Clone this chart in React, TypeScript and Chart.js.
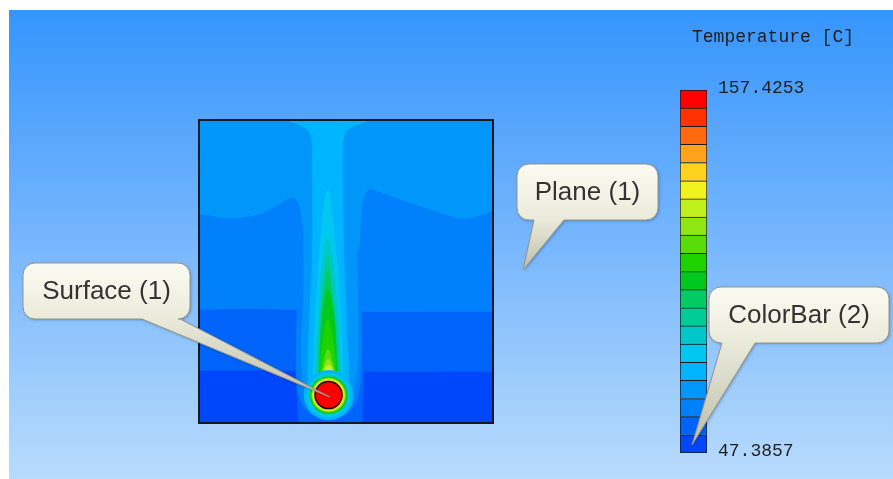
import React, { useEffect, useRef } from "react";
import { Chart, registerables } from "chart.js";

Chart.register(...registerables);

// ---------------- colour bar data ----------------
const colorbarTitle = "Temperature [C]";
const temperatureMin = 47.3857;
const temperatureMax = 157.4253;
const colorbarTickValues = [157.4253, 47.3857];
const colorbarTickLabels = ["157.4253", "47.3857"];
const levelBounds = [
  47.3857, 52.8877, 58.3897, 63.8916, 69.3936, 74.8956, 80.3976, 85.8996, 91.4015, 96.9035,
  102.4055, 107.9075, 113.4095, 118.9114, 124.4134, 129.9154, 135.4174, 140.9194, 146.4213,
  151.9233, 157.4253,
];
const levelColors = [
  "#0046fa", "#0064fa", "#0080fa", "#0096fa", "#00b4ff",
  "#00c8f0", "#00c8c8", "#00cc96", "#00cc64", "#00c81e",
  "#1ed200", "#58dc0a", "#8ee614", "#c0f01e", "#f2f21e",
  "#ffd21e", "#ffa31a", "#ff6a10", "#ff3300", "#ff0000",
];

// ---------------- plane contour field (cm) ----------------
const planeWidth = 29.5;
const planeHeight = 30.4;

const baseX = [-1, -1, 30.5, 30.5];
const baseY = [-1, 31.4, 31.4, -1];

const middleBandX = [-1, -1, 0, 3.1, 6.1, 8.1, 9.1, 9.7, 10.1, 10.4, 10.7, 13.0, 15.9, 16.3, 16.6, 17.1, 17.9, 20.1, 23.1, 26.1, 27.6, 29.5, 30.5, 30.5];
const middleBandY = [-1, 20.9, 20.9, 20.5, 20.9, 21.9, 22.5, 22.4, 21.4, 19.4, 17.0, 14.0, 17.0, 20.4, 22.6, 23.4, 23.2, 22.4, 21.4, 20.5, 20.6, 21.2, 21.2, -1];

const lowerBandX = [-1, -1, 0, 5, 9.5, 16.5, 23, 29.5, 30.5, 30.5];
const lowerBandY = [-1, 11.3, 11.3, 11.4, 11.3, 11.1, 11.1, 11.1, 11.1, -1];

const bottomBandX = [-1, -1, 0, 10, 16, 29.5, 30.5, 30.5];
const bottomBandY = [-1, 5.2, 5.2, 5.2, 5.1, 5.1, 5.1, -1];

const wake1X = [9.8, 9.9, 10.5, 15.8, 16.4, 16.5];
const wake1Y = [5.5, 2.0, -1, -1, 2.0, 5.5];

const wake2X = [9.9, 9.8, 10.0, 11.1, 13.0, 14.9, 16.0, 16.3, 16.3];
const wake2Y = [13.4, 7.4, 2.9, 1.0, 0.6, 1.0, 2.9, 7.4, 13.4];

const wake3X = [10.5, 10.5, 10.3, 10.5, 11.5, 13.0, 14.5, 15.6, 15.9, 15.9, 15.8];
const wake3Y = [18.4, 12.4, 7.4, 3.9, 1.9, 1.2, 1.9, 3.9, 7.4, 12.4, 18.4];

const columnX = [8.1, 9.1, 10.1, 10.9, 11.3, 11.4, 11.4, 11.2, 11.0, 11.0, 11.6, 13.0, 14.4, 15.0, 14.9, 14.7, 14.5, 14.4, 14.5, 14.9, 15.8, 16.8, 18.1];
const columnY = [30.8, 30.3, 29.9, 29.4, 28.7, 26.4, 17.4, 12.4, 7.4, 4.4, 2.6, 1.9, 2.6, 4.4, 7.4, 12.4, 17.4, 26.4, 28.7, 29.4, 29.9, 30.3, 30.8];

const plume5X = [11.4, 11.5, 11.6, 11.8, 12.0, 12.2, 12.5, 12.9, 13.3, 13.6, 13.9, 14.1, 14.3, 14.4, 14.5];
const plume5Y = [3.4, 5.4, 8.4, 12.4, 15.4, 18.4, 21.2, 23.4, 21.2, 18.4, 15.4, 12.4, 8.4, 5.4, 3.4];

const plume6X = [11.6, 11.7, 11.9, 12.1, 12.3, 12.6, 12.9, 13.2, 13.5, 13.8, 14.0, 14.2, 14.3];
const plume6Y = [3.4, 5.4, 9.4, 12.4, 15.4, 17.4, 18.6, 17.4, 15.4, 12.4, 9.4, 5.4, 3.4];

const plume7X = [11.8, 11.9, 12.1, 12.3, 12.6, 12.9, 13.2, 13.5, 13.8, 14.0, 14.1];
const plume7Y = [3.4, 5.4, 9.4, 12.4, 15.2, 16.9, 15.2, 12.4, 9.4, 5.4, 3.4];

const plume8X = [11.9, 12.0, 12.2, 12.4, 12.6, 12.9, 13.2, 13.4, 13.7, 13.9, 14.0];
const plume8Y = [3.4, 5.4, 8.9, 11.9, 13.9, 15.4, 13.9, 11.9, 8.9, 5.4, 3.4];

const plume9X = [12.0, 12.1, 12.2, 12.4, 12.9, 13.5, 13.7, 13.8, 13.9];
const plume9Y = [3.4, 5.2, 7.9, 10.9, 13.4, 10.9, 7.9, 5.2, 3.4];

const plume10X = [12.1, 12.2, 12.4, 12.9, 13.5, 13.7, 13.8];
const plume10Y = [3.4, 5.2, 7.9, 10.4, 7.9, 5.2, 3.4];

const plume11X = [12.2, 12.3, 12.5, 12.95, 13.4, 13.7, 13.8];
const plume11Y = [3.4, 4.4, 5.9, 7.4, 5.9, 4.4, 3.4];

const plume12X = [12.1, 12.4, 12.95, 13.6, 13.9];
const plume12Y = [3.4, 4.9, 6.4, 4.9, 3.4];

const plume13X = [12.0, 12.2, 13.0, 13.8, 14.0];
const plume13Y = [3.4, 4.4, 5.8, 4.4, 3.4];

const plume14X = [11.9, 12.1, 13.0, 13.9, 14.1];
const plume14Y = [3.3, 4.1, 5.4, 4.1, 3.3];

const plume15X = [11.8, 12.2, 13.0, 13.8, 14.2];
const plume15Y = [3.2, 3.9, 5.1, 3.9, 3.2];

const plume16X = [11.9, 12.3, 13.0, 13.7, 14.1];
const plume16Y = [3.2, 3.8, 4.7, 3.8, 3.2];

const cylinderX = [13.0];
const cylinderY = [2.8];
const cylinderLevel = 19;
const haloLevels = [4, 5, 6, 7, 9, 11, 13, 15];

const calloutTexts = ["Plane (1)", "Surface (1)", "ColorBar (2)"];

// ---------------- layout / styles ----------------
const W = 893;
const H = 479;
const haloRadii = [25, 22, 20.5, 19.5, 18.5, 17.5, 16.5, 15.5];
const calloutLayout = [
  { box: [517, 164, 141, 56], tail: [534, 564, 523, 270] },
  { box: [23, 263, 167, 56], tail: [142, 180, 330, 397] },
  { box: [709, 287, 180, 56], tail: [722, 755, 692, 445] },
];

const fieldRegions = [
  { level: 3, xs: baseX, ys: baseY, tension: 0 },
  { level: 2, xs: middleBandX, ys: middleBandY, tension: 0.35 },
  { level: 1, xs: lowerBandX, ys: lowerBandY, tension: 0.35 },
  { level: 0, xs: bottomBandX, ys: bottomBandY, tension: 0.35 },
  { level: 1, xs: wake1X, ys: wake1Y, tension: 0.35 },
  { level: 2, xs: wake2X, ys: wake2Y, tension: 0.35 },
  { level: 3, xs: wake3X, ys: wake3Y, tension: 0.35 },
  { level: 4, xs: columnX, ys: columnY, tension: 0.35 },
  { level: 5, xs: plume5X, ys: plume5Y, tension: 0.35 },
  { level: 6, xs: plume6X, ys: plume6Y, tension: 0.35 },
  { level: 7, xs: plume7X, ys: plume7Y, tension: 0.35 },
  { level: 8, xs: plume8X, ys: plume8Y, tension: 0.35 },
  { level: 9, xs: plume9X, ys: plume9Y, tension: 0.35 },
  { level: 10, xs: plume10X, ys: plume10Y, tension: 0.35 },
  { level: 11, xs: plume11X, ys: plume11Y, tension: 0.35 },
  { level: 12, xs: plume12X, ys: plume12Y, tension: 0.35 },
  { level: 13, xs: plume13X, ys: plume13Y, tension: 0.35 },
  { level: 14, xs: plume14X, ys: plume14Y, tension: 0.35 },
  { level: 15, xs: plume15X, ys: plume15Y, tension: 0.35 },
  { level: 16, xs: plume16X, ys: plume16Y, tension: 0.35 },
];

function drawCallout(ctx: CanvasRenderingContext2D, text: string, L: any) {
  const [x, y, w, h] = L.box;
  const [b1, b2, tx, ty] = L.tail;
  const r = 12;
  ctx.save();
  ctx.beginPath();
  ctx.moveTo(x + r, y);
  ctx.lineTo(x + w - r, y);
  ctx.arcTo(x + w, y, x + w, y + r, r);
  ctx.lineTo(x + w, y + h - r);
  ctx.arcTo(x + w, y + h, x + w - r, y + h, r);
  ctx.lineTo(b2, y + h);
  ctx.lineTo(tx, ty);
  ctx.lineTo(b1, y + h);
  ctx.lineTo(x + r, y + h);
  ctx.arcTo(x, y + h, x, y + h - r, r);
  ctx.lineTo(x, y + r);
  ctx.arcTo(x, y, x + r, y, r);
  ctx.closePath();
  const bottom = Math.max(ty, y + h);
  const g = ctx.createLinearGradient(0, y, 0, bottom);
  const ratio = h / (bottom - y);
  g.addColorStop(0, "#fbfbf2");
  g.addColorStop(Math.min(1, ratio * 0.98), "#ebebdb");
  g.addColorStop(1, "#bdbdac");
  ctx.shadowColor = "rgba(0,0,0,0.28)";
  ctx.shadowBlur = 3;
  ctx.shadowOffsetX = 1;
  ctx.shadowOffsetY = 1;
  ctx.fillStyle = g;
  ctx.fill();
  ctx.shadowColor = "transparent";
  ctx.lineWidth = 1;
  ctx.strokeStyle = "#96968a";
  ctx.stroke();
  ctx.fillStyle = "#333333";
  ctx.font = '26px "Liberation Sans", Arial, sans-serif';
  ctx.textAlign = "center";
  ctx.textBaseline = "middle";
  ctx.fillText(text, x + w / 2, y + h / 2 + 1);
  ctx.restore();
}

const pageBackgroundPlugin = {
  id: "pageBackground",
  beforeDraw(chart: any) {
    const ctx = chart.ctx as CanvasRenderingContext2D;
    ctx.save();
    ctx.fillStyle = "#ffffff";
    ctx.fillRect(0, 0, W, H);
    const g = ctx.createLinearGradient(0, 10, 0, H);
    g.addColorStop(0, "#3595fd");
    g.addColorStop(0.5, "#78b7fd");
    g.addColorStop(1, "#b8dbfc");
    ctx.fillStyle = g;
    ctx.fillRect(9, 10, W - 9, H - 10);
    ctx.restore();
  },
};

const planeBorderPlugin = {
  id: "planeBorder",
  afterDatasetsDraw(chart: any) {
    const ctx = chart.ctx as CanvasRenderingContext2D;
    const a = chart.chartArea;
    ctx.save();
    ctx.strokeStyle = "#141820";
    ctx.lineWidth = 2;
    ctx.strokeRect(a.left, a.top, a.right - a.left, a.bottom - a.top);
    ctx.restore();
  },
};

const colorbarTextPlugin = {
  id: "colorbarText",
  afterDatasetsDraw(chart: any) {
    const ctx = chart.ctx as CanvasRenderingContext2D;
    const a = chart.chartArea;
    const yScale = chart.scales.y;
    ctx.save();
    ctx.fillStyle = "#1e1e1e";
    ctx.font = '18px "Liberation Mono", "DejaVu Sans Mono", monospace';
    ctx.textAlign = "left";
    ctx.textBaseline = "middle";
    ctx.fillText(colorbarTitle, a.left + 12, a.top - 53);
    colorbarTickValues.forEach((v, i) => {
      ctx.fillText(colorbarTickLabels[i], a.right + 11, yScale.getPixelForValue(v) - 2);
    });
    ctx.restore();
  },
  afterDraw(chart: any) {
    const ctx = chart.ctx as CanvasRenderingContext2D;
    calloutTexts.forEach((t, i) => drawCallout(ctx, t, calloutLayout[i]));
  },
};

export default function App() {
  const fieldRef = useRef<HTMLCanvasElement>(null);
  const barRef = useRef<HTMLCanvasElement>(null);

  useEffect(() => {
    const regionSets = fieldRegions.map((r) => ({
      data: r.xs.map((x, i) => ({ x, y: r.ys[i] })),
      showLine: true,
      fill: "shape",
      tension: r.tension,
      backgroundColor: levelColors[r.level],
      borderColor: levelColors[r.level],
      borderWidth: 1,
      pointRadius: 0,
      pointHitRadius: 0,
      clip: 0,
    }));
    const haloSets = haloLevels.map((lv, i) => ({
      data: cylinderX.map((x, j) => ({ x, y: cylinderY[j] })),
      showLine: false,
      pointRadius: haloRadii[i],
      pointBackgroundColor: levelColors[lv],
      pointBorderWidth: 0,
      clip: 0,
    }));
    const cylinderSet = {
      data: cylinderX.map((x, j) => ({ x, y: cylinderY[j] })),
      showLine: false,
      pointRadius: 13.5,
      pointBackgroundColor: levelColors[cylinderLevel],
      pointBorderColor: "#101010",
      pointBorderWidth: 1.5,
      clip: 0,
    };
    const ordered = [...regionSets, ...haloSets, cylinderSet].reverse();

    const fieldChart = new Chart(fieldRef.current!, {
      type: "scatter",
      data: { datasets: ordered as any },
      options: {
        animation: false,
        responsive: false,
        events: [],
        layout: { padding: { left: 199, top: 120, right: 400, bottom: 56 } },
        scales: {
          x: { type: "linear", min: 0, max: planeWidth, display: false },
          y: { type: "linear", min: 0, max: planeHeight, display: false },
        },
        plugins: { legend: { display: false }, tooltip: { enabled: false } },
      },
      plugins: [pageBackgroundPlugin, planeBorderPlugin],
    } as any);

    const barChart = new Chart(barRef.current!, {
      type: "bar",
      data: {
        labels: ["T"],
        datasets: levelColors.map((c, i) => ({
          data: [[levelBounds[i], levelBounds[i + 1]]],
          backgroundColor: c,
          borderColor: "#1a1a1a",
          borderWidth: { top: 1, left: 1, right: 1, bottom: i === 0 ? 1 : 0 },
          borderSkipped: false,
          grouped: false,
          barPercentage: 1,
          categoryPercentage: 1,
        })),
      },
      options: {
        animation: false,
        responsive: false,
        events: [],
        layout: { padding: { left: 680, top: 90, right: 186, bottom: 26 } },
        scales: {
          x: { display: false },
          y: { display: false, min: temperatureMin, max: temperatureMax },
        },
        plugins: { legend: { display: false }, tooltip: { enabled: false } },
      },
      plugins: [colorbarTextPlugin],
    } as any);

    return () => {
      fieldChart.destroy();
      barChart.destroy();
    };
  }, []);

  return (
    <div style={{ position: "fixed", left: 0, top: 0, width: W, height: H }}>
      <canvas ref={fieldRef} width={W} height={H} style={{ position: "absolute", left: 0, top: 0 }} />
      <canvas ref={barRef} width={W} height={H} style={{ position: "absolute", left: 0, top: 0 }} />
    </div>
  );
}
